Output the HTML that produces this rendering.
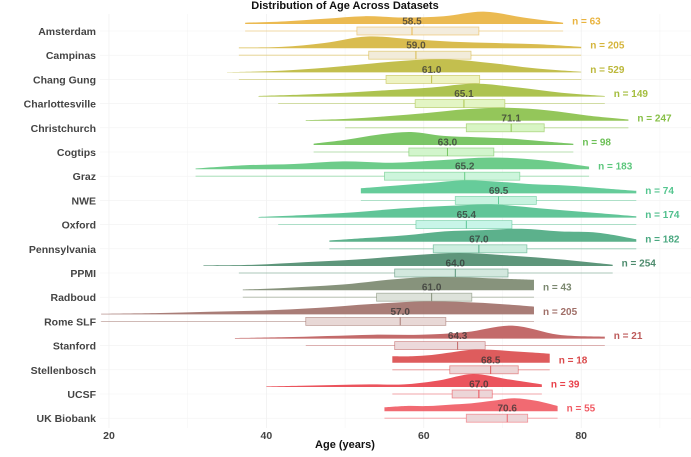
<!DOCTYPE html>
<html><head><meta charset="utf-8"><style>
body{margin:0;background:#fff;}
svg{font-family:"Liberation Sans",Arial,sans-serif;}
</style></head><body>
<svg id="chart" width="691" height="452" viewBox="0 0 691 452" xmlns="http://www.w3.org/2000/svg">
<text x="345" y="9" text-anchor="middle" font-size="11" font-weight="bold" fill="#111">Distribution of Age Across Datasets</text>
<text x="345" y="448" text-anchor="middle" font-size="11" font-weight="bold" fill="#111">Age (years)</text>
<g id="grid"></g><g id="rows"></g><g id="xticks"></g>
</svg>
<script>
const datasets=["Amsterdam","Campinas","Chang Gung","Charlottesville","Christchurch","Cogtips","Graz","NWE","Oxford","Pennsylvania","PPMI","Radboud","Rome SLF","Stanford","Stellenbosch","UCSF","UK Biobank"];
const counts=[63,205,529,149,247,98,183,74,174,182,254,43,205,21,18,39,55];
const medians=[58.5,59.0,61.0,65.1,71.1,63.0,65.2,69.5,65.4,67.0,64.0,61.0,57.0,64.3,68.5,67.0,70.6];
const q1s=[51.5,53,55.2,58.9,65.4,58.1,55,64,59,61.2,56.3,54,45,56.3,63.3,63.6,65.4];
const q3s=[67,66,67.1,70.3,75.3,68.9,72.2,74.3,71.2,73.1,70.7,66.1,62.8,67.8,72,68.7,73.2];
const mins=[37.3,36.5,35,39,45,46,31,52,39,48,32,37,19,36,56,40,55];
const maxs=[77.7,80,80,83,86,79,81,87,87,87,84,74,74,83,76,75,77];
const whiskerLo=[37.3,36.5,36.5,41.5,50,46,31,52,41.5,48,36.5,37,19,45,56,56,55];
const colors=["#e9b33e","#d5b53c","#bcb83b","#a4bd3d","#88c048","#6dc057","#5dc77d","#55c68f","#50bf8d","#4aa880","#4d8b6d","#7a876e","#a06f68","#bd5a5a","#da4a4b","#e9414b","#f05a63"];
const boxFills=["#f3ecdd","#f2ecda","#eef3c2","#e3f5c4","#d8f5c4","#d2f5cc","#cdf5dc","#c8f3e0","#c8f5e8","#cdeee0","#d3e8de","#dde2da","#e8d8d6","#ecd9db","#ecd5d6","#ecd5d7","#ecd6d8"];
const densities=[
[0.1,0.2,0.4,0.6,0.5,0.6,0.95,0.5,0.1],
[0.05,0.1,0.4,0.9,0.7,0.5,0.4,0.3,0.1],
[0.02,0.1,0.3,0.6,0.9,1,0.7,0.3,0.05],
[0.05,0.15,0.3,0.5,0.7,1,0.7,0.3,0.05],
[0.05,0.15,0.35,0.6,0.9,1,0.8,0.4,0.1],
[0.1,0.4,0.8,1,0.7,0.6,0.5,0.3,0.1],
[0.05,0.3,0.4,0.6,0.5,0.7,0.9,0.7,0.2],
[0.4,0.6,0.8,1,0.9,0.7,0.6,0.4,0.2],
[0.05,0.2,0.4,0.7,0.9,1,0.7,0.4,0.1],
[0.1,0.3,0.5,0.8,0.9,1,0.8,0.7,0.2],
[0.05,0.1,0.3,0.5,0.8,1,0.8,0.5,0.1],
[0.05,0.15,0.3,0.5,0.8,1,1,0.9,0.8],
[0.05,0.1,0.2,0.3,0.5,0.8,1,0.9,0.6],
[0.05,0.1,0.2,0.3,0.3,0.5,1,0.3,0.15],
[0.5,0.5,0.6,0.8,1,1,0.9,0.8,0.7],
[0.05,0.1,0.15,0.2,0.2,0.5,1,0.6,0.2],
[0.3,0.4,0.4,0.5,0.6,0.8,1,0.8,0.4]];
const xTicks=[20,40,60,80];

const NS="http://www.w3.org/2000/svg";
const x=v=>109+(v-20)*7.87;
const rowY=i=>31+24.2*i;
function mk(tag,attrs,parent){const e=document.createElementNS(NS,tag);for(const k in attrs)e.setAttribute(k,attrs[k]);parent.appendChild(e);return e;}
const grid=document.getElementById('grid'),rows=document.getElementById('rows'),xt=document.getElementById('xticks');
for(let v=20;v<=90;v+=10){const l=mk('line',{x1:x(v),x2:x(v),y1:14,y2:428,stroke:v%20===0?'#ececec':'#f5f5f5','stroke-width':0.6},grid);

}
xTicks.forEach(v=>{const t=mk('text',{x:x(v),y:439,'text-anchor':'middle','font-size':10.5,'font-weight':'bold',fill:'#444'},xt);t.textContent=v;

});
datasets.forEach((name,i)=>{
 const c=rowY(i),base=c-7,H=13;
 const g=mk('g',{},rows);
 
 
 const gl=mk('line',{x1:100,x2:691,y1:c,y2:c,stroke:'#f2f2f2','stroke-width':0.6},g);
 
 
 const d=densities[i],n=d.length,pts=d.map((h,k)=>[x(mins[i]+(maxs[i]-mins[i])*k/(n-1)),base-h*H]);
 let p=`M${pts[0][0]},${base} L${pts[0][0]},${pts[0][1]}`;
 for(let k=0;k<n-1;k++){const p0=pts[Math.max(0,k-1)],p1=pts[k],p2=pts[k+1],p3=pts[Math.min(n-1,k+2)];
  p+=` C${p1[0]+(p2[0]-p0[0])/6},${p1[1]+(p2[1]-p0[1])/6} ${p2[0]-(p3[0]-p1[0])/6},${p2[1]-(p3[1]-p1[1])/6} ${p2[0]},${p2[1]}`;}
 p+=` L${pts[n-1][0]},${base} Z`;
 const ds=mk('path',{d:p,fill:colors[i],'fill-opacity':0.9},g);
 
 
 const w=mk('line',{x1:x(whiskerLo[i]),x2:x(maxs[i]),y1:c,y2:c,stroke:colors[i],'stroke-opacity':0.6,'stroke-width':0.8},g);
 
 
 const b=mk('rect',{x:x(q1s[i]),y:c-4,width:x(q3s[i])-x(q1s[i]),height:8,fill:boxFills[i],stroke:colors[i],'stroke-opacity':0.6,'stroke-width':0.8},g);
 
 
 const m=mk('line',{x1:x(medians[i]),x2:x(medians[i]),y1:c-4,y2:c+4,stroke:colors[i],'stroke-width':0.9},g);
 
 
 const ml=mk('text',{x:x(medians[i]),y:c-6.5,'text-anchor':'middle','font-size':10,'font-weight':'bold',fill:'#333','fill-opacity':0.75},g);
 ml.textContent=medians[i].toFixed(1);
 
 
 const nl=mk('text',{x:x(maxs[i])+9,y:c-6.5,'font-size':10,'font-weight':'bold',fill:colors[i]},g);
 nl.textContent='n = '+counts[i];
 
 
 const yl=mk('text',{x:96,y:c+4,'text-anchor':'end','font-size':10.5,'font-weight':'bold',fill:'#444'},g);
 yl.textContent=name;
 
 
});
</script>
</body></html>
